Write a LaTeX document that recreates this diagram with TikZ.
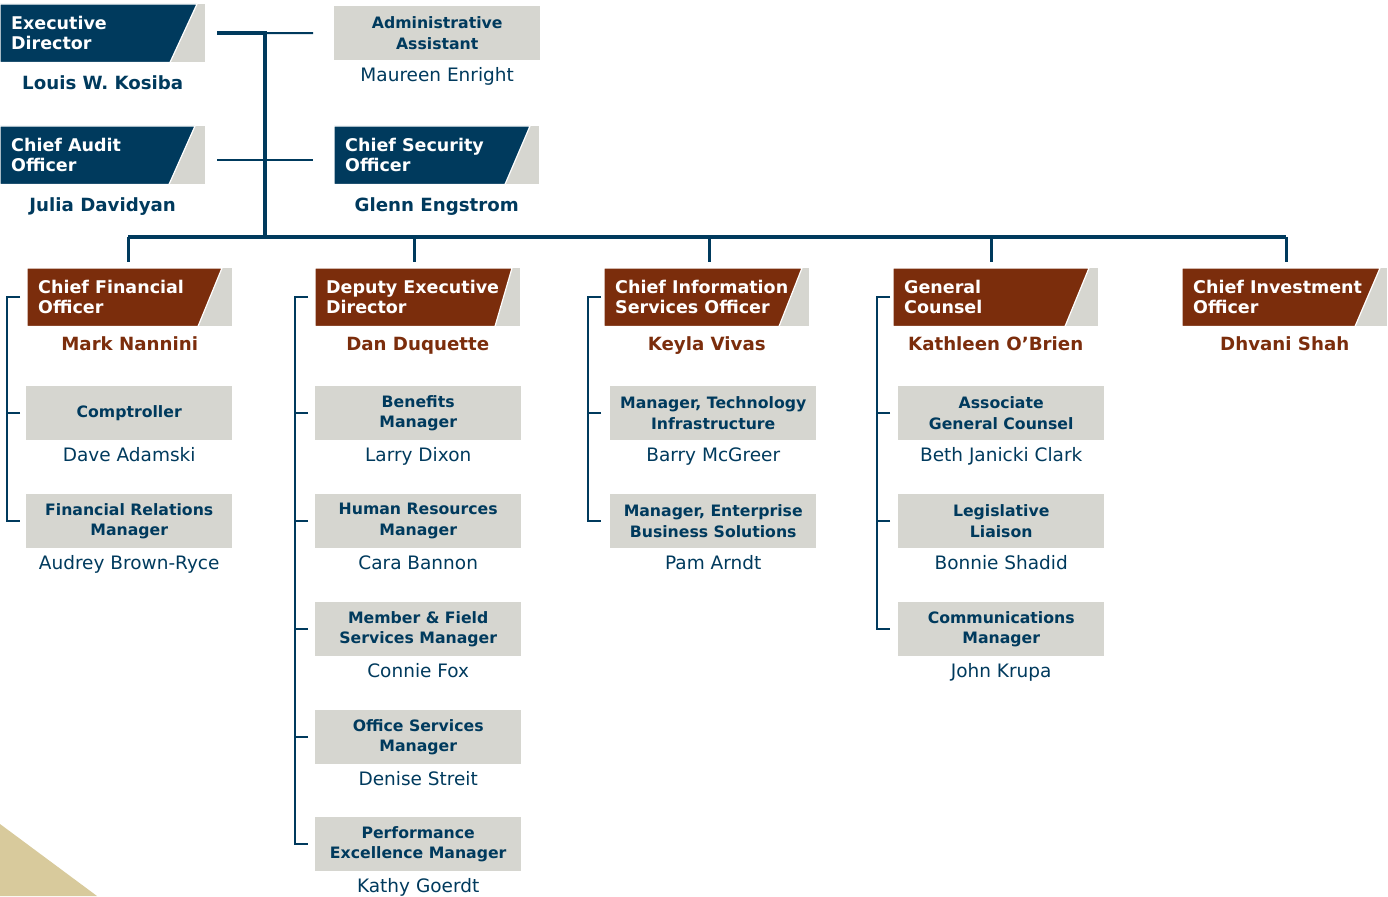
\documentclass[tikz,border=0pt]{standalone}
\usepackage{fontspec}
\setmainfont{DejaVu Sans}
\usetikzlibrary{calc}
\definecolor{navy}{RGB}{0,58,93}
\definecolor{rust}{RGB}{123,45,12}
\definecolor{lgrey}{RGB}{214,214,208}
\definecolor{tanc}{RGB}{216,202,156}
\tikzset{
  hdr/.style={rectangle, fill=lgrey, minimum width=205, minimum height=58, inner sep=0, anchor=north west},
  sub/.style={rectangle, fill=lgrey, minimum width=206, minimum height=54, inner sep=0, anchor=north west, text=navy, font=\fontsize{15.7}{20.5}\selectfont\bfseries, align=center},
  htxt/.style={text=white, font=\fontsize{17.5}{20}\selectfont\bfseries, align=left, anchor=west, inner sep=0},
  bname/.style={font=\fontsize{18.2}{20}\selectfont\bfseries, inner sep=0, anchor=base},
  rname/.style={font=\fontsize{18.5}{20}\selectfont, text=navy, inner sep=0, anchor=base},
  thickln/.style={draw=navy, line width=4.5},
  dropln/.style={draw=navy, line width=3},
  thinln/.style={draw=navy, line width=2},
  brk/.style={draw=navy, line width=2},
}
% name, x, y, colour, top width, bottom width, text
\newcommand\hdrbox[7]{%
  \node[hdr] (#1) at (#2,#3) {};
  \fill[#4, draw=white, line width=1.2] (#1.north west) -- ++(#5,0) -- ($(#1.south west)+(#6,0)$) -- (#1.south west) -- cycle;
  \node[htxt] (#1t) at ($(#1.west)+(11,0)$) {#7};
}
\begin{document}
\begin{tikzpicture}[x=1pt,y=-1pt]
\useasboundingbox (0,0) rectangle (1388,896);
\fill[tanc] (0,824) -- (97,896) -- (0,896) -- cycle;

% top level
\hdrbox{ed}{0}{4}{navy}{197}{170}{Executive\\Director}
\node[bname, text=navy] (edn) at ($(ed.south)+(0,27)$) {Louis W. Kosiba};
\hdrbox{cao}{0}{126}{navy}{195}{169}{Chief Audit\\Officer}
\node[bname, text=navy] (caon) at ($(cao.south)+(0,27)$) {Julia Davidyan};
\node[sub] (aa) at (334,6) {Administrative\\Assistant};
\node[rname] (aan) at ($(aa.south)+(0,21)$) {Maureen Enright};
\hdrbox{cso}{334}{126}{navy}{196}{171}{Chief Security\\Officer}
\node[bname, text=navy] (cson) at ($(cso.south)+(0,27)$) {Glenn Engstrom};

% column heads
\hdrbox{cfo}{27}{268}{rust}{195}{171}{Chief Financial\\Officer}
\node[bname, text=rust] (cfon) at ($(cfo.south)+(0,24)$) {Mark Nannini};
\hdrbox{ded}{315}{268}{rust}{197}{180}{Deputy Executive\\Director}
\node[bname, text=rust] (dedn) at ($(ded.south)+(0,24)$) {Dan Duquette};
\hdrbox{ciso}{604}{268}{rust}{198}{175}{Chief Information\\Services Officer}
\node[bname, text=rust] (cison) at ($(ciso.south)+(0,24)$) {Keyla Vivas};
\hdrbox{gc}{893}{268}{rust}{196}{172}{General\\Counsel}
\node[bname, text=rust] (gcn) at ($(gc.south)+(0,24)$) {Kathleen O’Brien};
\hdrbox{cio}{1182}{268}{rust}{198}{173}{Chief Investment\\Officer}
\node[bname, text=rust] (cion) at ($(cio.south)+(0,24)$) {Dhvani Shah};

% column 1
\node[sub] (comp) at (26,386) {Comptroller};
\node[rname] at ($(comp.south)+(0,21)$) {Dave Adamski};
\node[sub] (frm) at (26,494) {Financial Relations\\Manager};
\node[rname] at ($(frm.south)+(0,21)$) {Audrey Brown-Ryce};

% column 2
\node[sub] (ben) at (315,386) {Benefits\\Manager};
\node[rname] at ($(ben.south)+(0,21)$) {Larry Dixon};
\node[sub] (hrm) at (315,494) {Human Resources\\Manager};
\node[rname] at ($(hrm.south)+(0,21)$) {Cara Bannon};
\node[sub] (mfs) at (315,602) {Member \& Field\\Services Manager};
\node[rname] at ($(mfs.south)+(0,21)$) {Connie Fox};
\node[sub] (osm) at (315,710) {Office Services\\Manager};
\node[rname] at ($(osm.south)+(0,21)$) {Denise Streit};
\node[sub] (pem) at (315,817) {Performance\\Excellence Manager};
\node[rname] at ($(pem.south)+(0,21)$) {Kathy Goerdt};

% column 3
\node[sub] (mti) at (610,386) {Manager, Technology\\Infrastructure};
\node[rname] at ($(mti.south)+(0,21)$) {Barry McGreer};
\node[sub] (meb) at (610,494) {Manager, Enterprise\\Business Solutions};
\node[rname] at ($(meb.south)+(0,21)$) {Pam Arndt};

% column 4
\node[sub] (agc) at (898,386) {Associate\\General Counsel};
\node[rname] at ($(agc.south)+(0,21)$) {Beth Janicki Clark};
\node[sub] (ll) at (898,494) {Legislative\\Liaison};
\node[rname] at ($(ll.south)+(0,21)$) {Bonnie Shadid};
\node[sub] (cm) at (898,602) {Communications\\Manager};
\node[rname] at ($(cm.south)+(0,21)$) {John Krupa};

% trunk and bar
\coordinate (t0) at (217,33);
\coordinate (t1) at (265,33);
\coordinate (t2) at (265,237);
\coordinate (c0) at (217,160);
\coordinate (d1) at (128,237);
\coordinate (d2) at (414,237);
\coordinate (d3) at (709,237);
\coordinate (d4) at (991,237);
\coordinate (d5) at (1286,237);
\draw[thinln] (t1) -- ([xshift=-21]aa.west);
\draw[thinln] (c0) -- ([xshift=-21]cso.west |- c0);
\draw[thickln] (t0) -| (t2);
\draw[thickln] (d1) -- (d5);
\foreach \d/\h in {d1/cfo,d2/ded,d3/ciso,d4/gc,d5/cio}
  \draw[dropln, shorten >=6] (\d) -- (\d |- \h.north);

% brackets
\draw[brk] ([xshift=-7]cfo.west) -- ++(-13,0) |- ([xshift=-6]frm.west);
\draw[brk] ([xshift=-6]comp.west) -- ++(-13,0);

\draw[brk] ([xshift=-7]ded.west) -- ++(-13,0) |- ([xshift=-7]pem.west);
\foreach \n in {ben,hrm,mfs,osm}
  \draw[brk] ([xshift=-7]\n.west) -- ++(-13,0);

\draw[brk] ([xshift=-3]ciso.west) -- ++(-13,0) |- ([xshift=-9]meb.west);
\draw[brk] ([xshift=-9]mti.west) -- ++(-13,0);

\draw[brk] ([xshift=-3]gc.west) -- ++(-13,0) |- ([xshift=-8]cm.west);
\foreach \n in {agc,ll}
  \draw[brk] ([xshift=-8]\n.west) -- ++(-13,0);
\end{tikzpicture}
\end{document}
